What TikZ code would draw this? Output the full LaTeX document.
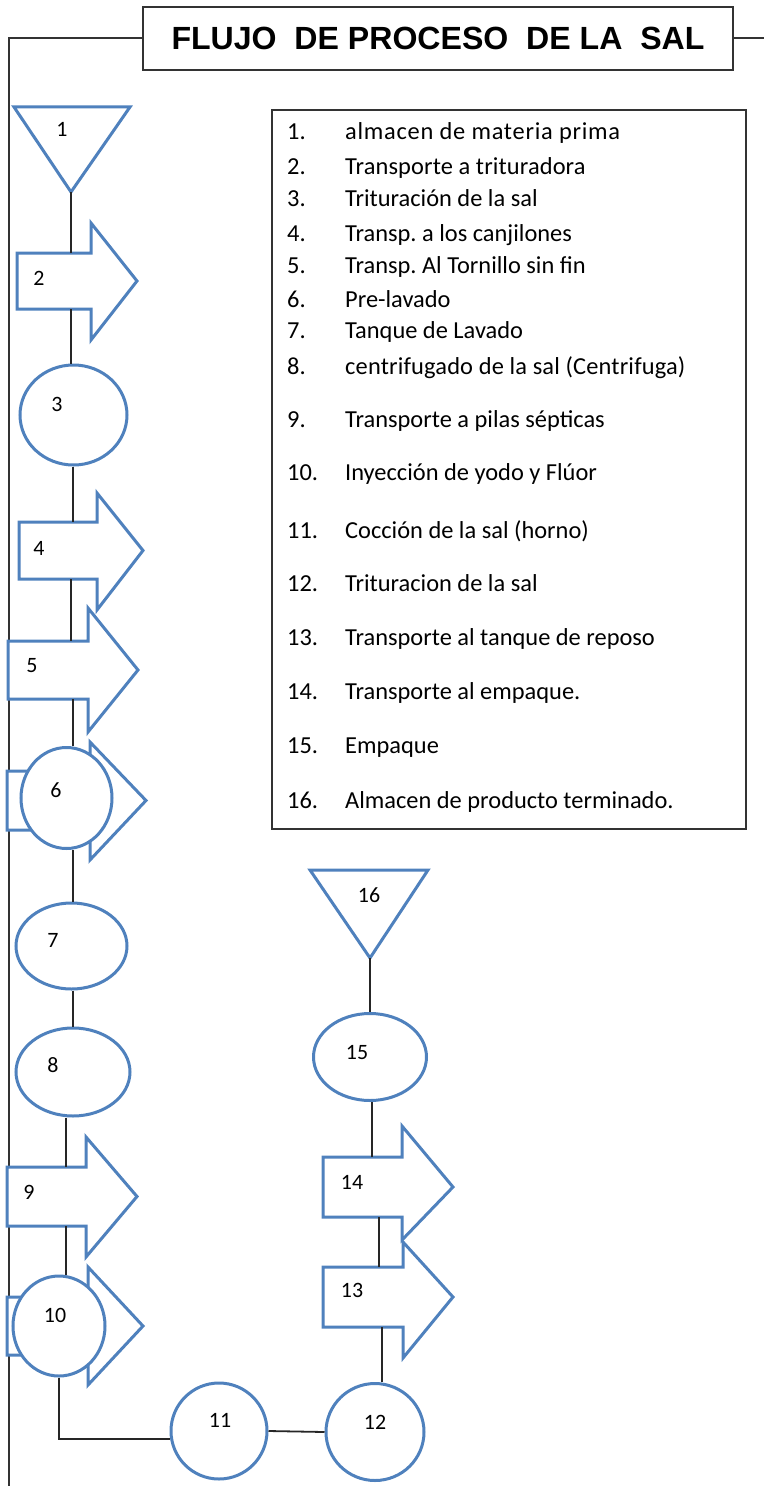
\documentclass[tikz,border=0pt]{standalone}
\usepackage{fontspec}
\setmainfont{Carlito}
\newfontfamily\titlefont{Liberation Sans}
\usetikzlibrary{shapes.geometric,fit}
\frenchspacing

\definecolor{flowblue}{HTML}{4F81BD}
\definecolor{framegray}{HTML}{333333}
\definecolor{linkgray}{HTML}{262626}

\tikzset{
  flowshape/.style={draw=flowblue, line width=3bp, fill=white, line join=miter},
  roundstep/.style={flowshape, ellipse, inner sep=0pt},
  stepnum/.style={anchor=base, inner sep=0pt, font=\fontsize{22}{25}\selectfont},
  link/.style={draw=linkgray, line width=1.8bp},
  frame/.style={draw=framegray, line width=2.6bp},
  legnum/.style={anchor=base west, inner sep=0pt, font=\fontsize{24.5}{28}\selectfont},
  legtext/.style={anchor=base west, inner sep=0pt,
    font=\fontsize{24.5}{28}\selectfont\addfontfeature{LetterSpace=#1}},
  legtext/.default=0,
}

% block arrow: name, left x, body top, body bottom, head base x, head top, head bottom, tip x
\newcommand{\flowarrow}[8]{%
  \draw[flowshape] (#2,#3) -- (#5,#3) -- (#5,#6) -- (#8,{(#3+#4)/2}) -- (#5,#7)
    -- (#5,#4) -- (#2,#4) -- cycle;
  \coordinate (#1nw) at (#2,#3);
  \coordinate (#1se) at (#5,#4);
  \node[fit=(#1nw)(#1se), inner sep=0pt] (#1) {};
}

\begin{document}
\begin{tikzpicture}[x=1bp, y=-1bp]
\useasboundingbox (0,0) rectangle (764,1486);

% heading and outer frame line
\node[frame, minimum width=590bp, minimum height=63bp, inner sep=0pt,
      font=\titlefont\bfseries\fontsize{32.2}{36}\selectfont] (title) at (438,38.5)
      {FLUJO\ \ DE PROCESO\ \ DE LA\ \ SAL};
\coordinate (frameTop) at (9,38);
\coordinate (frameBottom) at (9,1486);
\coordinate (frameRight) at (764,38);
\draw[frame, line join=miter] (title.west |- frameTop) -- (frameTop) -- (frameBottom);
\draw[frame] (title.east |- frameRight) -- (frameRight);

% legend
\node[draw=framegray, line width=2bp, minimum width=474bp, minimum height=719bp,
      inner sep=0pt] (legend) at (509,469.5) {};
\foreach \n/\y/\s/\t in {
  1/140/3/almacen de materia prima,
  2/175/0.5/Transporte a trituradora,
  3/207/0/Trituración de la sal,
  4/241/0/Transp. a los canjilones,
  5/273/0/Transp. Al Tornillo sin fin,
  6/307/0/Pre-lavado,
  7/338/0/Tanque de Lavado,
  8/374/0.7/centrifugado de la sal (Centrifuga),
  9/427/0/Transporte a pilas sépticas,
  10/480/0/Inyección de yodo y Flúor,
  11/538/0/Cocción de la sal (horno),
  12/591/0/Trituracion de la sal,
  13/645/0/Transporte al tanque de reposo,
  14/699/0/Transporte al empaque.,
  15/753/0/Empaque,
  16/808/0/Almacen de producto terminado.}{
  \node[legnum] (ln\n) at (287,\y) {\n.};
  \node[legtext=\s] (lt\n) at (345,\y) {\t};
}

% step 1: raw material storage
\draw[flowshape] (14,107) -- (130,107) -- (71,192) -- cycle;
\coordinate (s1) at (71,192);
\node[stepnum] (n1) at (62,137) {1};

% step 2
\flowarrow{s2}{17}{253}{309}{91}{223}{340}{137}
\node[stepnum] (n2) at (39,285) {2};

% step 3
\node[roundstep, minimum width=107bp, minimum height=100bp] (s3) at (73.5,415) {};
\node[stepnum] (n3) at (57,411) {3};

% step 4
\flowarrow{s4}{19}{522}{579}{97}{493}{610}{143}
\node[stepnum] (n4) at (39,555) {4};

% step 5
\flowarrow{s5}{8}{641}{699}{88}{608}{732}{138}
\node[stepnum] (n5) at (32,672) {5};

% step 6: combined operation and transport
\flowarrow{s6a}{7}{771}{830}{90}{742}{860}{146}
\node[roundstep, minimum width=91bp, minimum height=101bp] (s6) at (66.5,798) {};
\node[stepnum] (n6) at (56,797) {6};

% step 7
\node[roundstep, minimum width=111bp, minimum height=86bp] (s7) at (71.5,946) {};
\node[stepnum] (n7) at (53,947) {7};

% step 8
\node[roundstep, minimum width=114bp, minimum height=88bp] (s8) at (73,1072) {};
\node[stepnum] (n8) at (53,1072) {8};

% step 9
\flowarrow{s9}{7}{1167}{1226}{86}{1137}{1257}{137}
\node[stepnum] (n9) at (29,1199) {9};

% step 10: combined operation and transport
\flowarrow{s10a}{7}{1297}{1355}{88}{1267}{1385}{143}
\node[roundstep, minimum width=92bp, minimum height=100bp] (s10) at (59,1326) {};
\node[stepnum] (n10) at (55,1322) {10};

% step 11
\node[roundstep, minimum width=96bp, minimum height=96bp] (s11) at (219,1431) {};
\node[stepnum] (n11) at (220,1427) {11};

% step 12
\node[roundstep, minimum width=98bp, minimum height=97bp] (s12) at (375,1432) {};
\node[stepnum] (n12) at (375,1429) {12};

% step 13
\flowarrow{s13}{323}{1267}{1327}{403}{1242}{1358}{453}
\node[stepnum] (n13) at (352,1297) {13};

% step 14
\flowarrow{s14}{323}{1157}{1217}{402}{1126}{1240}{453}
\node[stepnum] (n14) at (352,1189) {14};

% step 15
\node[roundstep, minimum width=113bp, minimum height=87bp] (s15) at (370,1057) {};
\node[stepnum] (n15) at (357,1059) {15};

% step 16: finished product storage
\draw[flowshape] (310,870) -- (428,870) -- (370,958) -- cycle;
\coordinate (s16) at (370,958);
\node[stepnum] (n16) at (369,902) {16};

% process links
\coordinate (x1) at (71,0);
\coordinate (x2) at (73,0);
\coordinate (x3) at (66,0);
\coordinate (x4) at (59,0);
\coordinate (x5) at (382,0);
\coordinate (x6) at (379,0);
\coordinate (x7) at (372,0);
\draw[link] (s1) -- (s1 |- s2.north);
\draw[link] (x1 |- s2.south) -- (x1 |- s3.north);
\draw[link] (x2 |- s3.south) -- (x2 |- s4.north);
\draw[link] (x1 |- s4.south) -- (x1 |- s5.north);
\draw[link] (x2 |- s5.south) -- (x2 |- s6.north);
\draw[link] (x2 |- s6.south) -- (x2 |- s7.north);
\draw[link] (x2 |- s7.south) -- (x2 |- s8.north);
\draw[link] (x3 |- s8.south) -- (x3 |- s9.north);
\draw[link] (x3 |- s9.south) -- (x3 |- s10.north);
\coordinate (turn) at (59,1439);
\draw[link] (x4 |- s10.south) -- (turn) -- (s11.west |- turn);
\draw[link] (s11.east) -- (s12.west);
\draw[link] (x5 |- s12.north) -- (x5 |- s13.south);
\draw[link] (x6 |- s13.north) -- (x6 |- s14.south);
\draw[link] (x7 |- s14.north) -- (x7 |- s15.south);
\draw[link] (s15.north) -- (s16);
\end{tikzpicture}
\end{document}
